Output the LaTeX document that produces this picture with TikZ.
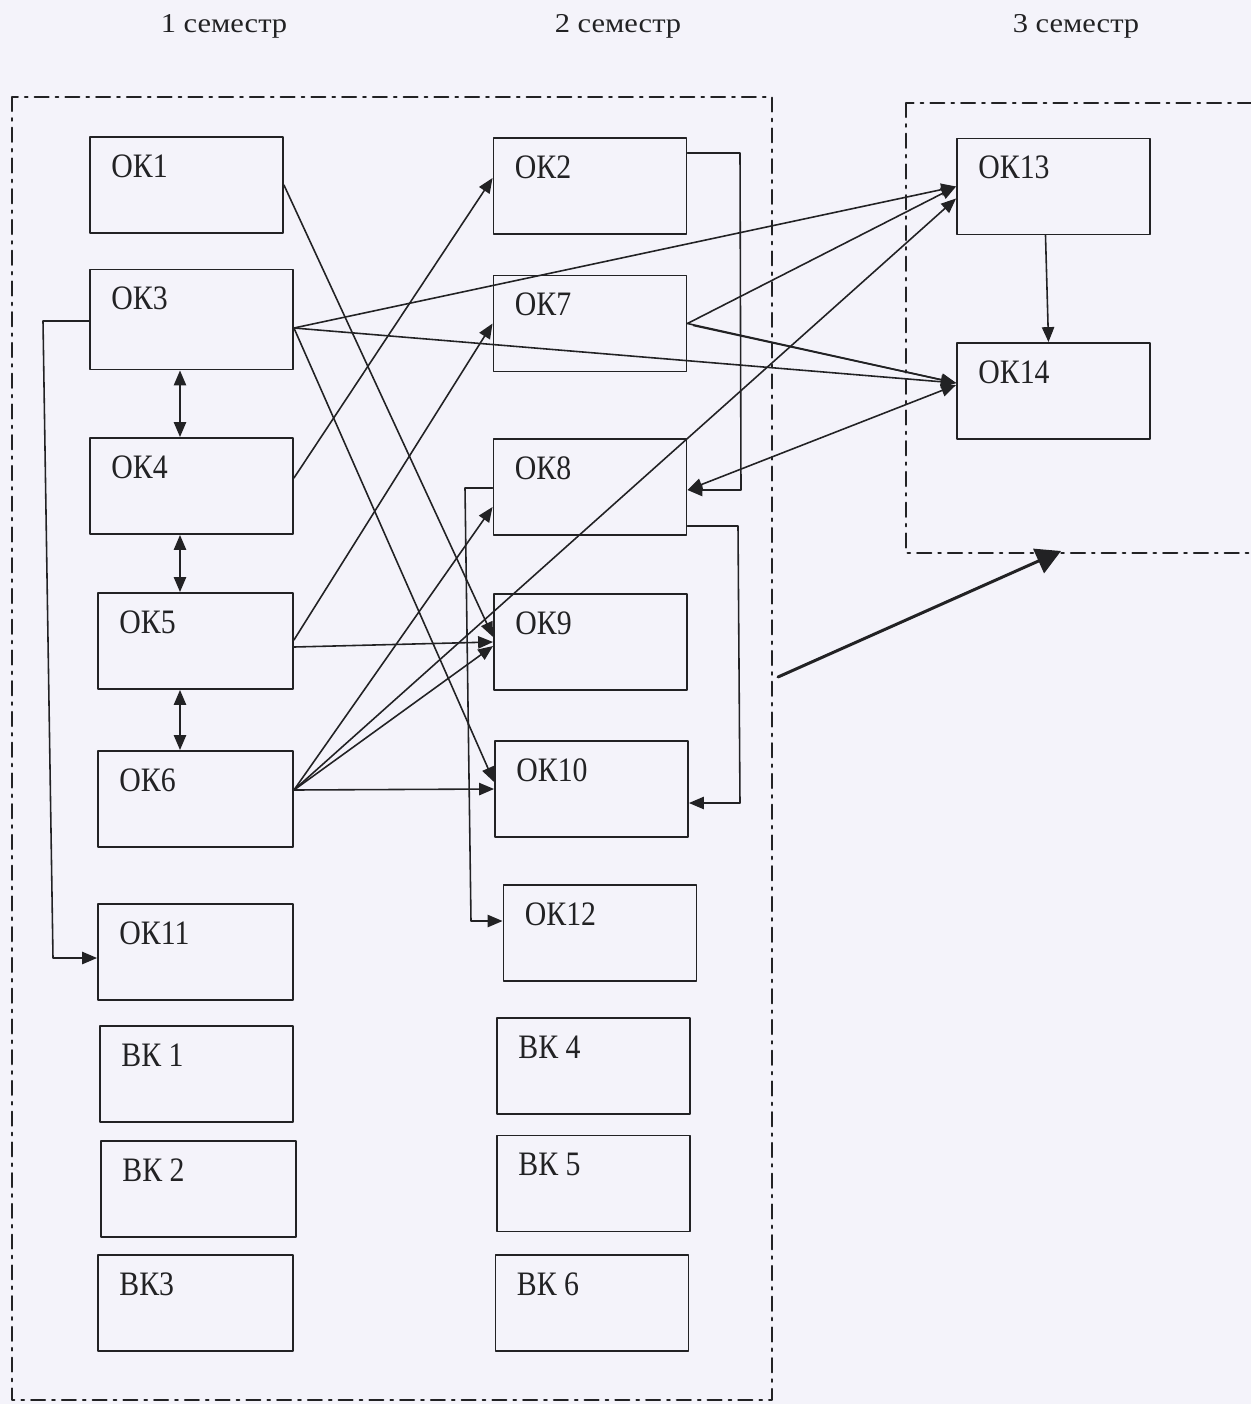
\documentclass[tikz,border=0pt]{standalone}
\usepackage{fontspec}
\setmainfont{Liberation Serif}
\newfontfamily\boxfont{Liberation Serif}[FakeStretch=0.87]
\newfontfamily\headfont{Liberation Serif}[FakeStretch=1.12]
\usetikzlibrary{arrows.meta}
\definecolor{paper}{RGB}{244,243,250}
\definecolor{ink}{RGB}{34,34,36}

\tikzset{
  kbox/.style={draw=ink, line width=1.1pt, minimum width=3.86cm, minimum height=1.92cm,
    inner sep=0pt, label={[klabel]north west:#1}},
  klabel/.style={anchor=base west, xshift=0.44cm, yshift=-0.82cm, inner sep=0pt,
    text=ink, font=\boxfont\fontsize{19.5}{21}\selectfont},
  head/.style={anchor=base, inner sep=0pt, text=ink, font=\headfont\fontsize{15.5}{18}\selectfont},
  link/.style={draw=ink, line width=0.9pt},
  frame/.style={draw=ink, line width=1.2pt, dash pattern=on 8pt off 4pt on 1.5pt off 4pt},
  bigarrow/.style={draw=ink, line width=1.7pt, -{Triangle[length=14pt,width=15pt]}}
}

\begin{document}
\begin{tikzpicture}[x=0.02cm, y=-0.02cm, >={Triangle[length=8.5pt,width=7pt]},
  line cap=round, line join=round]

\useasboundingbox (0,0) rectangle (1251,1404);
\fill[paper] (0,0) rectangle (1251,1404);
\clip (0,0) rectangle (1251,1404);

% Семестры
\node[head] (s1) at (224,32) {1 семестр};
\node[head] (s2) at (618,32) {2 семестр};
\node[head] (s3) at (1076,32) {3 семестр};

% Рамки
\draw[frame] (12,97) rectangle (772,1400);
\draw[frame] (906,103) rectangle (1290,553);

% 1 семестр
\node[kbox=ОК1] (ok1) at (186.5,185) {};
\node[kbox=ОК3, minimum width=4.06cm, minimum height=2cm] (ok3) at (191.5,319.5) {};
\node[kbox=ОК4, minimum width=4.06cm] (ok4) at (191.5,486) {};
\node[kbox=ОК5, minimum width=3.9cm] (ok5) at (195.5,641) {};
\node[kbox=ОК6, minimum width=3.9cm] (ok6) at (195.5,799) {};
\node[kbox=ОК11, minimum width=3.9cm] (ok11) at (195.5,952) {};
\node[kbox=ВК 1] (vk1) at (196.5,1074) {};
\node[kbox=ВК 2, minimum width=3.9cm] (vk2) at (198.5,1189) {};
\node[kbox=ВК3, minimum width=3.9cm] (vk3) at (195.5,1303) {};

% 2 семестр
\node[kbox=ОК2] (ok2) at (590,186) {};
\node[kbox=ОК7] (ok7) at (590,323.5) {};
\node[kbox=ОК8] (ok8) at (590,487) {};
\node[kbox=ОК9] (ok9) at (590.5,642) {};
\node[kbox=ОК10] (ok10) at (591.5,789) {};
\node[kbox=ОК12] (ok12) at (600,933) {};
\node[kbox=ВК 4] (vk4) at (593.5,1066) {};
\node[kbox=ВК 5] (vk5) at (593.5,1183.5) {};
\node[kbox=ВК 6] (vk6) at (592,1303) {};

% 3 семестр
\node[kbox=ОК13] (ok13) at (1053.5,186.5) {};
\node[kbox=ОК14] (ok14) at (1053.5,391) {};

% Двусторонние связи
\coordinate (cx) at (180,0);
\draw[link, <->] (ok3.south -| cx) -- (ok4.north -| cx);
\draw[link, <->] (ok4.south -| cx) -- (ok5.north -| cx);
\draw[link, <->] (ok5.south -| cx) -- (ok6.north -| cx);

% Связи между семестрами
\draw[link, ->] (ok1.east) -- ([shift={(0,-5)}]ok9.west);
\draw[link, ->] ([shift={(0,8.5)}]ok3.east) -- ([shift={(0,-7)}]ok10.west);
\draw[link, ->] ([shift={(0,8.5)}]ok3.east) -- (ok13.west);
\draw[link, ->] ([shift={(0,8.5)}]ok3.east) -- ([shift={(0,-8)}]ok14.west);
\draw[link, ->] ([shift={(0,-8)}]ok4.east) -- ([shift={(0,-8)}]ok2.west);
\draw[link, ->] ([shift={(0,-1)}]ok5.east) -- (ok7.west);
\draw[link, ->] ([shift={(0,6)}]ok5.east) -- (ok9.west);
\draw[link, ->] ([shift={(0,-9)}]ok6.east) -- ([shift={(0,20)}]ok8.west);
\draw[link, ->] ([shift={(0,-9)}]ok6.east) -- ([shift={(0,12)}]ok13.west);
\draw[link, ->] ([shift={(0,-9)}]ok6.east) -- ([shift={(0,4)}]ok9.west);
\draw[link, ->] ([shift={(0,-9)}]ok6.east) -- (ok10.west);
\draw[link, ->] (ok7.east) -- (ok13.west);
\draw[link, ->] (ok7.east) -- ([shift={(0,-8)}]ok14.west);
\draw[link, ->] ([shift={(6,2)}]ok7.east) -- ([shift={(0,-8)}]ok14.west);
\draw[link, <->] ([shift={(0,3)}]ok8.east) -- ([shift={(0,-6)}]ok14.west);
\draw[link, ->] ([shift={(-8,0)}]ok13.south) -- ([shift={(-5,0)}]ok14.north);

% Ломаные связи
\coordinate (a1) at (43,321);
\coordinate (a2) at (53,958);
\draw[link, ->] ([shift={(0,1.5)}]ok3.west) -- (a1) -- (a2) -- ([shift={(0,6)}]ok11.west);
\coordinate (b1) at (740,153);
\coordinate (b2) at (741,490);
\draw[link, ->] ([shift={(0,-33)}]ok2.east) -- (b1) -- (b2) -- ([shift={(0,3)}]ok8.east);
\coordinate (c1) at (738,526);
\coordinate (c2) at (740,803);
\draw[link, ->] ([shift={(0,39)}]ok8.east) -- (c1) -- (c2) -- ([shift={(0,14)}]ok10.east);
\coordinate (d1) at (465,488);
\coordinate (d2) at (471,921);
\draw[link, ->] ([shift={(0,1)}]ok8.west) -- (d1) -- (d2) -- ([shift={(0,-12)}]ok12.west);

% Переход к 3 семестру
\coordinate (g1) at (778,677);
\coordinate (g2) at (1061,551);
\draw[bigarrow] (g1) -- (g2);

\end{tikzpicture}
\end{document}
